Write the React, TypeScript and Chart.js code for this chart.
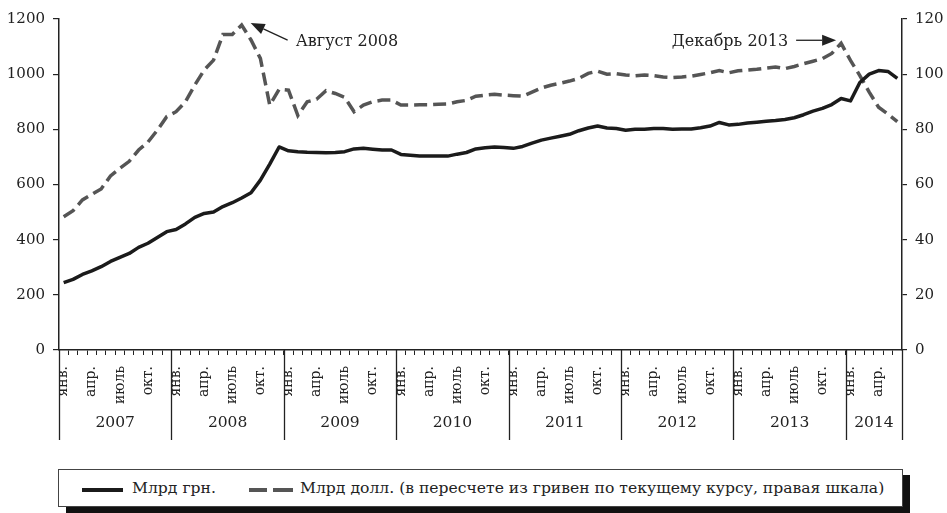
import React, { useEffect, useRef } from 'react';
import { Chart, registerables } from 'chart.js';

Chart.register(...registerables);

const years = [2007, 2008, 2009, 2010, 2011, 2012, 2013, 2014];
const monthNames = ['янв.', 'фев.', 'март', 'апр.', 'май', 'июнь', 'июль', 'авг.', 'сент.', 'окт.', 'нояб.', 'дек.'];
const shownMonths = ['янв.', 'апр.', 'июль', 'окт.'];
const monthsInLastYear = 6;

// Млрд грн. (left scale), Jan 2007 – Jun 2014
const hryvnia = [
  244, 256, 274, 287, 302, 321, 336, 350, 372, 387, 408, 429,
  437, 457, 481, 495, 500, 520, 534, 551, 570, 616, 674, 736,
  722, 719, 717, 716, 715, 716, 719, 729, 731, 728, 725, 725,
  709, 706, 703, 703, 703, 703, 710, 716, 729, 733, 736, 734,
  731, 738, 750, 761, 768, 775, 782, 795, 805, 812, 805, 803,
  797, 800, 800, 803, 803, 800, 801, 801, 806, 812, 825, 816,
  818, 823, 826, 829, 832, 836, 842, 853, 866, 876, 890, 912,
  903, 970, 1000, 1013, 1010, 985,
];

// Млрд долл. (right scale)
const dollars = [
  48.3, 50.5, 54.4, 56.4, 58.4, 63.1, 65.9, 68.4, 72.5, 75.4, 79.7, 84.6,
  86.4, 90.0, 96.1, 101.5, 105.1, 114.4, 114.4, 117.8, 112.4, 105.7, 88.8, 94.5,
  94.2, 85.0, 90.0, 90.9, 94.0, 93.0, 91.6, 86.4, 88.8, 90.0, 90.6, 90.6,
  88.8, 88.8, 88.9, 88.9, 89.1, 89.2, 90.0, 90.5, 92.0, 92.4, 92.7, 92.4,
  92.2, 92.0, 93.5, 95.0, 96.0, 96.7, 97.5, 98.5, 100.3, 101.1, 100.0, 100.2,
  99.7, 99.4, 99.7, 99.5, 99.0, 98.8, 99.0, 99.3, 99.9, 100.5, 101.3, 100.5,
  101.2, 101.5, 101.8, 102.2, 102.6, 102.0, 102.8, 103.8, 104.7, 105.6, 107.5, 111.2,
  105.0, 99.5, 93.5, 88.0, 85.5, 82.8,
];

const leftTicks = { min: 0, max: 1200, step: 200 };
const rightTicks = { min: 0, max: 120, step: 20 };

const seriesNames = ['Млрд грн.', 'Млрд долл. (в пересчете из гривен по текущему курсу, правая шкала)'];
const annotationTexts = ['Август 2008', 'Декабрь 2013'];
const annotationIndex = [19, 83];

const categories = years.flatMap((y, yi) =>
  monthNames.slice(0, yi === years.length - 1 ? monthsInLastYear : 12).map((m) => `${m} ${y}`)
);

const FONT = '"DejaVu Serif", serif';
const INK = '#222';

function drawArrow(ctx: CanvasRenderingContext2D, x1: number, y1: number, x2: number, y2: number) {
  const ang = Math.atan2(y2 - y1, x2 - x1);
  const headLen = 14;
  const headW = 5.5;
  const bx = x2 - headLen * Math.cos(ang);
  const by = y2 - headLen * Math.sin(ang);
  ctx.beginPath();
  ctx.moveTo(x1, y1);
  ctx.lineTo(bx, by);
  ctx.stroke();
  ctx.beginPath();
  ctx.moveTo(x2, y2);
  ctx.lineTo(bx + headW * Math.sin(ang), by - headW * Math.cos(ang));
  ctx.lineTo(bx - headW * Math.sin(ang), by + headW * Math.cos(ang));
  ctx.closePath();
  ctx.fill();
}

const decorPlugin = {
  id: 'decor',
  afterDraw(chart: any) {
    const { ctx, chartArea } = chart;
    const xs = chart.scales.x;
    const yr = chart.scales.y1;
    const step = xs.width / categories.length;
    ctx.save();
    ctx.fillStyle = INK;

    // month labels (rotated)
    ctx.font = `14px ${FONT}`;
    ctx.textAlign = 'right';
    ctx.textBaseline = 'middle';
    categories.forEach((c, i) => {
      const m = c.split(' ')[0];
      if (!shownMonths.includes(m)) return;
      ctx.save();
      ctx.translate(xs.getPixelForValue(i), chartArea.bottom);
      ctx.rotate(-Math.PI / 2);
      ctx.fillText(m, -16, 0);
      ctx.restore();
    });

    // year separators and labels
    ctx.strokeStyle = INK;
    ctx.lineWidth = 1.3;
    ctx.font = `15.5px ${FONT}`;
    ctx.textAlign = 'center';
    ctx.textBaseline = 'middle';
    let start = 0;
    years.forEach((y, yi) => {
      const count = yi === years.length - 1 ? monthsInLastYear : 12;
      const left = xs.getPixelForValue(start) - step / 2;
      const right = xs.getPixelForValue(start + count - 1) + step / 2;
      ctx.beginPath();
      ctx.moveTo(Math.round(left) + 0.5, chartArea.bottom);
      ctx.lineTo(Math.round(left) + 0.5, chartArea.bottom + 90);
      ctx.stroke();
      if (yi === years.length - 1) {
        ctx.beginPath();
        ctx.moveTo(Math.round(right) + 0.5, chartArea.bottom);
        ctx.lineTo(Math.round(right) + 0.5, chartArea.bottom + 90);
        ctx.stroke();
      }
      ctx.fillText(String(y), (left + right) / 2, chartArea.bottom + 73);
      start += count;
    });

    // annotations
    ctx.font = `16px ${FONT}`;
    ctx.lineWidth = 1.3;
    const i1 = annotationIndex[0];
    const p1x = xs.getPixelForValue(i1);
    const p1y = yr.getPixelForValue(dollars[i1]);
    drawArrow(ctx, p1x + 46, p1y + 15, p1x + 9, p1y - 2);
    ctx.textAlign = 'left';
    ctx.fillText(annotationTexts[0], p1x + 54, p1y + 17);

    const i2 = annotationIndex[1];
    const p2x = xs.getPixelForValue(i2);
    const p2y = yr.getPixelForValue(dollars[i2]);
    drawArrow(ctx, p2x - 45, p2y - 3, p2x - 5, p2y - 3);
    ctx.textAlign = 'right';
    ctx.fillText(annotationTexts[1], p2x - 53, p2y - 1.5);
    ctx.restore();
  },
};

export default function App() {
  const canvasRef = useRef<HTMLCanvasElement | null>(null);

  useEffect(() => {
    const canvas = canvasRef.current;
    if (!canvas) return;
    Chart.defaults.font.family = FONT;
    const chart = new Chart(canvas, {
      type: 'line',
      data: {
        labels: categories,
        datasets: [
          {
            label: seriesNames[0],
            data: hryvnia,
            yAxisID: 'y',
            borderColor: '#1b1b1b',
            borderWidth: 3.5,
            pointRadius: 0,
            tension: 0,
            borderJoinStyle: 'round',
          },
          {
            label: seriesNames[1],
            data: dollars,
            yAxisID: 'y1',
            borderColor: '#555555',
            borderWidth: 3.5,
            borderDash: [13, 6],
            pointRadius: 0,
            tension: 0,
          },
        ],
      },
      options: {
        responsive: false,
        animation: false,
        events: [],
        layout: { padding: { top: 19, left: 0, right: 0, bottom: 0 } },
        plugins: { legend: { display: false }, tooltip: { enabled: false } },
        scales: {
          x: {
            type: 'category',
            offset: true,
            grid: { display: true, drawOnChartArea: false, drawTicks: true, tickLength: 5, offset: true, color: INK, lineWidth: 1 },
            border: { display: true, color: INK, width: 1.5 },
            ticks: { display: false, autoSkip: false },
            afterFit: (s: any) => { s.height = 110; },
          },
          y: {
            position: 'left',
            min: leftTicks.min,
            max: leftTicks.max,
            ticks: { stepSize: leftTicks.step, padding: 8, color: INK, font: { size: 15, family: FONT }, callback: (v: any) => String(v) },
            grid: { display: true, drawOnChartArea: false, tickLength: 6, color: INK, lineWidth: 1.2 },
            border: { display: true, color: INK, width: 1.5 },
            afterFit: (s: any) => { s.width = 59; },
          },
          y1: {
            position: 'right',
            min: rightTicks.min,
            max: rightTicks.max,
            ticks: { stepSize: rightTicks.step, padding: 8, color: INK, font: { size: 15, family: FONT }, callback: (v: any) => String(v) },
            grid: { display: true, drawOnChartArea: false, tickLength: 5, color: INK, lineWidth: 1.2 },
            border: { display: true, color: INK, width: 1.5 },
            afterFit: (s: any) => { s.width = 45; },
          },
        },
      },
      plugins: [decorPlugin],
    } as any);
    return () => chart.destroy();
  }, []);

  return (
    <div style={{ position: 'absolute', left: 0, top: 0, width: 947, height: 513, overflow: 'hidden', background: '#fff' }}>
      <canvas ref={canvasRef} width={947} height={460} style={{ position: 'absolute', left: 0, top: 0, width: 947, height: 460 }} />
      <div style={{ position: 'absolute', left: 902, top: 475, width: 8, height: 38, background: '#111' }} />
      <div style={{ position: 'absolute', left: 66, top: 506, width: 844, height: 7, background: '#111' }} />
      <div
        style={{
          position: 'absolute', left: 58, top: 469, width: 845, height: 38, boxSizing: 'border-box',
          border: '1px solid #444', background: '#fff',
          fontFamily: FONT, fontSize: 15.6, color: INK,
        }}
      >
        <div style={{ position: 'absolute', left: 23, top: 18, width: 41, height: 3.5, background: '#1b1b1b' }} />
        <div style={{ position: 'absolute', left: 73, top: 8, lineHeight: '20px', whiteSpace: 'nowrap' }}>{seriesNames[0]}</div>
        <div style={{ position: 'absolute', left: 190, top: 18, width: 18, height: 3.5, background: '#555' }} />
        <div style={{ position: 'absolute', left: 214, top: 18, width: 20, height: 3.5, background: '#555' }} />
        <div style={{ position: 'absolute', left: 241, top: 8, lineHeight: '20px', whiteSpace: 'nowrap' }}>{seriesNames[1]}</div>
      </div>
    </div>
  );
}
